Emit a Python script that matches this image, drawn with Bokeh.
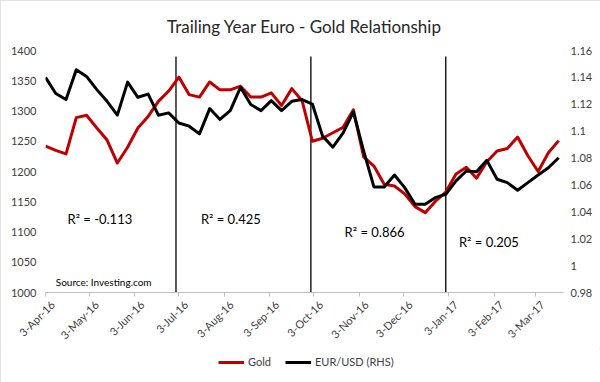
import math
import pandas as pd
from bokeh.plotting import figure
from bokeh.layouts import column
from bokeh.models import (Range1d, LinearAxis, FixedTicker, Legend, LegendItem, Label)
from bokeh.embed import file_html
from bokeh.resources import INLINE

# ---------------- data ----------------
dates = pd.date_range("2016-04-03", periods=51, freq="7D")
gold = [1242, 1235, 1229, 1289, 1293, 1272, 1252, 1214, 1240, 1272,
        1291, 1316, 1333, 1356, 1327, 1323, 1348, 1335, 1335, 1341,
        1323, 1323, 1330, 1309, 1337, 1317, 1250, 1255, 1264, 1273,
        1302, 1224, 1209, 1179, 1176, 1163, 1142, 1132, 1151, 1166,
        1196, 1207, 1189, 1216, 1234, 1238, 1257, 1226, 1200, 1231,
        1251]
eurusd = [1.140, 1.128, 1.1235, 1.1457, 1.1407, 1.1309, 1.1222, 1.1119, 1.1365, 1.1252,
          1.1276, 1.1119, 1.1136, 1.1061, 1.1037, 1.098, 1.1168, 1.1087, 1.1153, 1.1326,
          1.1198, 1.1153, 1.1227, 1.1153, 1.1222, 1.1235, 1.1202, 1.0963, 1.0881, 1.0987,
          1.1143, 1.0852, 1.0585, 1.0585, 1.0674, 1.058, 1.0457, 1.0457, 1.0506, 1.0531,
          1.063, 1.0704, 1.0699, 1.0783, 1.0642, 1.0617, 1.0561, 1.0617, 1.0674, 1.0728,
          1.0802]
tick_dates = ["2016-04-03", "2016-05-03", "2016-06-03", "2016-07-03", "2016-08-03",
              "2016-09-03", "2016-10-03", "2016-11-03", "2016-12-03", "2017-01-03",
              "2017-02-03", "2017-03-03"]
tick_labels = ["3-Apr-16", "3-May-16", "3-Jun-16", "3-Jul-16", "3-Aug-16", "3-Sep-16",
               "3-Oct-16", "3-Nov-16", "3-Dec-16", "3-Jan-17", "3-Feb-17", "3-Mar-17"]
left_ticks = [1000, 1050, 1100, 1150, 1200, 1250, 1300, 1350, 1400]
right_ticks = [0.98, 1.0, 1.02, 1.04, 1.06, 1.08, 1.1, 1.12, 1.14, 1.16]
right_labels = ["0.98", "1", "1.02", "1.04", "1.06", "1.08", "1.1", "1.12", "1.14", "1.16"]
period_breaks = ["2016-07-01", "2016-10-01", "2017-01-01"]
r2_texts = ["R\u00b2 = -0.113", "R\u00b2 = 0.425", "R\u00b2 = 0.866", "R\u00b2 = 0.205"]
series_names = ["Gold", "EUR/USD (RHS)"]
title_text = "Trailing Year Euro - Gold Relationship"
source_text = "Source: Investing.com"

# ---------------- helpers ----------------
origin = pd.Timestamp("2016-04-03")
def day(d):
    return (pd.Timestamp(d) - origin).days
x = [day(d) for d in dates]
tick_x = [day(d) for d in tick_dates]
break_x = [day(d) for d in period_breaks]

FONT = "Lato"
AX_COLOR = "#404040"
GOLD_COLOR = "#C00000"
EUR_COLOR = "black"
X_END = 353.3
LABEL_SHIFT = 4.8   # days: rotated labels sit slightly right of their tick (Excel style)
H_MAIN = 348
H_LEG = 382 - H_MAIN

p = figure(width=600, height=H_MAIN, output_backend="svg", toolbar_location=None,
           x_range=Range1d(0, X_END), y_range=Range1d(1000, 1400),
           min_border_left=45, min_border_right=37, min_border_top=49,
           min_border_bottom=H_MAIN - 292,
           background_fill_color="white", border_fill_color="white")
p.outline_line_color = None
p.xgrid.visible = False
p.ygrid.visible = False
p.extra_y_ranges = {"eur": Range1d(0.98, 1.16)}
p.extra_x_ranges = {"lab": Range1d(-LABEL_SHIFT, X_END - LABEL_SHIFT)}

p.title.text = title_text
p.title.align = "center"
p.title.text_font = FONT
p.title.text_font_size = "17px"
p.title.text_font_style = "normal"
p.title.text_color = "#262626"
p.title.offset = -4
p.title.standoff = 27

# bottom axis: line + tick marks only (labels blank)
xa = p.xaxis[0]
xa.ticker = FixedTicker(ticks=tick_x)
xa.major_label_overrides = {tx: "" for tx in tick_x}
xa.axis_line_color = "#BFBFBF"
xa.major_tick_line_color = "#BFBFBF"
xa.major_tick_out = 4
xa.major_tick_in = 0
xa.minor_tick_line_color = None
xa.major_label_text_font_size = "1px"
xa.major_label_standoff = 0

# bottom axis labels (rotated), on a slightly shifted copy of the x scale
xl = LinearAxis(x_range_name="lab")
xl.ticker = FixedTicker(ticks=tick_x)
xl.major_label_overrides = {tx: lab for tx, lab in zip(tick_x, tick_labels)}
xl.major_label_orientation = math.pi / 4
xl.axis_line_color = None
xl.major_tick_line_color = None
xl.minor_tick_line_color = None
xl.major_tick_out = 0
xl.major_tick_in = 0
xl.major_label_standoff = 6
xl.major_label_text_font = FONT
xl.major_label_text_font_size = "11px"
xl.major_label_text_color = AX_COLOR
p.add_layout(xl, "below")

# left axis
ya = p.yaxis[0]
ya.ticker = FixedTicker(ticks=left_ticks)
ya.axis_line_color = None
ya.major_tick_line_color = None
ya.minor_tick_line_color = None
ya.major_tick_out = 0
ya.major_tick_in = 0
ya.major_label_standoff = 9
ya.major_label_text_font = FONT
ya.major_label_text_font_size = "11px"
ya.major_label_text_color = AX_COLOR

# right axis
ra = LinearAxis(y_range_name="eur")
ra.ticker = FixedTicker(ticks=right_ticks)
ra.major_label_overrides = {t: l for t, l in zip(right_ticks, right_labels)}
ra.axis_line_color = None
ra.major_tick_line_color = None
ra.minor_tick_line_color = None
ra.major_tick_out = 0
ra.major_tick_in = 0
ra.major_label_standoff = 7
ra.major_label_text_font = FONT
ra.major_label_text_font_size = "11px"
ra.major_label_text_color = AX_COLOR
p.add_layout(ra, "right")

# period separators
p.segment(x0=break_x, x1=break_x, y0=[990] * 3, y1=[1390] * 3,
          line_color="black", line_width=1.3)

# series
p.line(x, gold, line_color=GOLD_COLOR, line_width=3, line_join="round")
p.line(x, eurusd, y_range_name="eur", line_color=EUR_COLOR, line_width=3,
       line_join="round")

# R^2 annotations (positions in data space)
r2_pos = [(15, 1122), (106, 1122), (204, 1100), (282, 1084)]
for (lx, ly), t in zip(r2_pos, r2_texts):
    p.add_layout(Label(x=lx, y=ly, text=t, text_font=FONT, text_font_size="13px",
                       text_baseline="middle", text_color="black"))
p.add_layout(Label(x=7, y=1017, text=source_text, text_font=FONT, text_font_size="10px",
                   text_baseline="middle", text_color="black"))

# ---------------- legend strip ----------------
lf = figure(width=600, height=H_LEG, output_backend="svg", toolbar_location=None,
            x_range=Range1d(0, 1), y_range=Range1d(0, 1),
            x_axis_location=None, y_axis_location=None, min_border=0,
            background_fill_color="white", border_fill_color="white")
lf.outline_line_color = None
lf.xgrid.visible = False
lf.ygrid.visible = False
nan = float("nan")
lg_gold = lf.line(x=[nan, nan], y=[nan, nan], line_color=GOLD_COLOR, line_width=3)
lg_eur = lf.line(x=[nan, nan], y=[nan, nan], line_color=EUR_COLOR, line_width=3)
legend = Legend(items=[LegendItem(label=series_names[0], renderers=[lg_gold]),
                       LegendItem(label=series_names[1], renderers=[lg_eur])],
                location=(173, H_LEG - 20), orientation="horizontal",
                glyph_width=26, glyph_height=12, label_height=12, label_standoff=4,
                spacing=14, padding=0, margin=0, border_line_color=None,
                background_fill_alpha=0, label_text_font=FONT,
                label_text_font_size="11px", label_text_color=AX_COLOR)
lf.add_layout(legend, "center")

layout = column(p, lf, spacing=0,
                styles={"outline": "1px solid #D9D9D9", "outline-offset": "-1px"})
open("out.html", "w").write(file_html(layout, INLINE))
